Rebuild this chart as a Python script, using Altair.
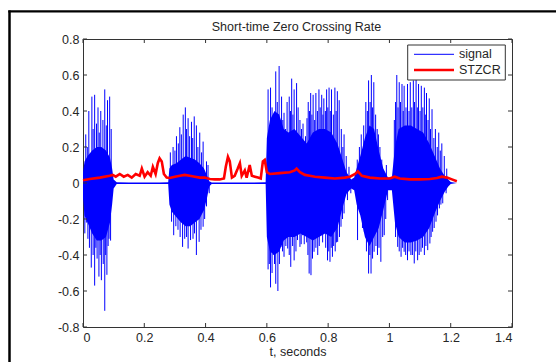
import altair as alt
import pandas as pd

TITLE = "Short-time Zero Crossing Rate"
X_LABEL = "t, seconds"
SERIES = ["signal", "STZCR"]
X_TICKS = [0, 0.2, 0.4, 0.6, 0.8, 1.0, 1.2, 1.4]
Y_TICKS = [-0.8, -0.6, -0.4, -0.2, 0, 0.2, 0.4, 0.6, 0.8]

# dense body of the speech waveform (upper / lower envelope)
body_t = [0.000, 0.005, 0.015, 0.030, 0.045, 0.060, 0.075, 0.088, 0.095, 0.100, 0.110, 0.150, 0.200, 0.250,
          0.278, 0.282, 0.290, 0.305, 0.320, 0.335, 0.350, 0.365, 0.380, 0.395, 0.405, 0.412, 0.420, 0.480,
          0.540, 0.596, 0.600, 0.610, 0.625, 0.640, 0.655, 0.670, 0.690, 0.710, 0.730, 0.750, 0.770, 0.790,
          0.810, 0.830, 0.845, 0.860, 0.875, 0.885, 0.893, 0.905, 0.920, 0.935, 0.950, 0.965, 0.980, 0.995,
          1.008, 1.018, 1.030, 1.050, 1.070, 1.090, 1.110, 1.130, 1.150, 1.165, 1.180, 1.192, 1.200, 1.220]
body_hi = [0.06, 0.12, 0.15, 0.18, 0.20, 0.20, 0.18, 0.14, 0.08, 0.02, 0.004, 0.003, 0.003, 0.003,
           0.004, 0.08, 0.10, 0.11, 0.13, 0.15, 0.14, 0.13, 0.11, 0.08, 0.04, 0.01, 0.003, 0.003,
           0.003, 0.004, 0.25, 0.35, 0.40, 0.38, 0.30, 0.28, 0.30, 0.26, 0.22, 0.28, 0.30, 0.30,
           0.28, 0.22, 0.14, 0.06, 0.02, 0.03, 0.08, 0.15, 0.25, 0.32, 0.30, 0.18, 0.08, 0.03,
           0.03, 0.20, 0.30, 0.32, 0.32, 0.30, 0.28, 0.22, 0.14, 0.08, 0.04, 0.02, 0.005, 0.0]
body_lo = [-0.08, -0.18, -0.22, -0.28, -0.32, -0.32, -0.30, -0.22, -0.12, -0.03, -0.006, -0.005, -0.005, -0.005,
           -0.006, -0.12, -0.16, -0.19, -0.22, -0.24, -0.24, -0.22, -0.20, -0.15, -0.08, -0.02, -0.005, -0.005,
           -0.005, -0.006, -0.30, -0.38, -0.40, -0.38, -0.32, -0.30, -0.30, -0.28, -0.30, -0.32, -0.30, -0.28,
           -0.30, -0.25, -0.15, -0.06, -0.03, -0.04, -0.12, -0.18, -0.30, -0.35, -0.30, -0.25, -0.15, -0.04,
           -0.04, -0.22, -0.30, -0.33, -0.33, -0.32, -0.30, -0.25, -0.16, -0.10, -0.05, -0.02, -0.005, 0.0]

# individual positive peaks (t, value)
peaks = [
    (0.009, 0.27), (0.014, 0.20), (0.019, 0.40), (0.029, 0.48), (0.033, 0.30), (0.038, 0.49), (0.044, 0.33),
    (0.049, 0.42), (0.053, 0.28), (0.058, 0.40), (0.065, 0.35), (0.071, 0.52), (0.076, 0.32), (0.080, 0.46),
    (0.087, 0.48), (0.092, 0.30),
    (0.285, 0.17), (0.294, 0.20), (0.300, 0.18), (0.305, 0.26), (0.311, 0.22), (0.316, 0.31), (0.321, 0.27),
    (0.327, 0.38), (0.334, 0.42), (0.338, 0.30), (0.343, 0.36), (0.348, 0.26), (0.354, 0.34), (0.358, 0.25),
    (0.363, 0.37), (0.370, 0.32), (0.375, 0.20), (0.381, 0.28), (0.387, 0.17), (0.392, 0.23), (0.403, 0.12),
    (0.408, 0.10),
    (0.604, 0.52), (0.612, 0.53), (0.617, 0.42), (0.621, 0.30), (0.629, 0.62), (0.634, 0.45), (0.640, 0.65),
    (0.648, 0.48), (0.652, 0.35), (0.656, 0.39), (0.661, 0.30), (0.666, 0.45), (0.673, 0.48), (0.677, 0.40),
    (0.681, 0.58), (0.685, 0.38), (0.689, 0.52), (0.697, 0.555), (0.702, 0.42), (0.708, 0.35), (0.713, 0.30),
    (0.718, 0.33), (0.726, 0.26), (0.731, 0.36), (0.735, 0.45), (0.739, 0.40), (0.743, 0.50), (0.747, 0.38),
    (0.751, 0.49), (0.756, 0.35), (0.760, 0.50), (0.765, 0.40), (0.770, 0.52), (0.774, 0.42), (0.779, 0.49),
    (0.783, 0.38), (0.786, 0.47), (0.791, 0.40), (0.795, 0.52), (0.799, 0.42), (0.803, 0.53), (0.807, 0.40),
    (0.811, 0.52), (0.817, 0.38), (0.822, 0.53), (0.826, 0.40), (0.830, 0.51), (0.836, 0.46), (0.843, 0.30),
    (0.848, 0.20), (0.852, 0.27), (0.859, 0.15), (0.868, 0.09),
    (0.895, 0.13), (0.902, 0.20), (0.908, 0.27), (0.916, 0.32), (0.923, 0.45), (0.928, 0.40), (0.932, 0.57),
    (0.937, 0.45), (0.941, 0.60), (0.945, 0.42), (0.949, 0.56), (0.955, 0.38), (0.960, 0.30), (0.964, 0.27),
    (0.969, 0.20), (0.975, 0.13), (0.990, 0.10),
    (1.016, 0.35), (1.020, 0.45), (1.024, 0.60), (1.028, 0.42), (1.032, 0.56), (1.036, 0.45), (1.041, 0.55),
    (1.045, 0.40), (1.048, 0.54), (1.054, 0.42), (1.059, 0.55), (1.064, 0.40), (1.068, 0.56), (1.073, 0.42),
    (1.078, 0.57), (1.082, 0.45), (1.087, 0.58), (1.091, 0.42), (1.095, 0.55), (1.100, 0.40), (1.104, 0.54),
    (1.109, 0.42), (1.114, 0.53), (1.117, 0.38), (1.121, 0.50), (1.126, 0.35), (1.130, 0.47), (1.134, 0.30),
    (1.139, 0.41), (1.145, 0.25), (1.150, 0.30), (1.156, 0.20), (1.161, 0.28), (1.166, 0.18), (1.171, 0.22),
    (1.179, 0.15), (1.187, 0.08),
]

# individual negative peaks (t, value)
troughs = [
    (0.006, -0.28), (0.011, -0.22), (0.016, -0.31), (0.021, -0.36), (0.027, -0.47), (0.033, -0.40),
    (0.038, -0.57), (0.042, -0.36), (0.046, -0.42), (0.052, -0.52), (0.056, -0.40), (0.060, -0.54),
    (0.066, -0.45), (0.071, -0.71), (0.074, -0.40), (0.078, -0.51), (0.082, -0.35), (0.085, -0.31),
    (0.090, -0.32),
    (0.289, -0.215), (0.296, -0.29), (0.303, -0.24), (0.310, -0.26), (0.317, -0.30), (0.325, -0.355),
    (0.332, -0.31), (0.338, -0.30), (0.343, -0.364), (0.351, -0.317), (0.359, -0.31), (0.364, -0.28),
    (0.370, -0.40), (0.379, -0.327), (0.385, -0.26), (0.392, -0.243), (0.397, -0.20), (0.403, -0.13),
    (0.412, -0.057),
    (0.604, -0.48), (0.608, -0.45), (0.612, -0.58), (0.617, -0.50), (0.621, -0.40), (0.625, -0.45),
    (0.629, -0.56), (0.636, -0.60), (0.641, -0.45), (0.646, -0.355), (0.651, -0.38), (0.656, -0.41),
    (0.662, -0.35), (0.668, -0.364), (0.673, -0.40), (0.678, -0.466), (0.684, -0.35), (0.689, -0.43),
    (0.695, -0.38), (0.700, -0.317), (0.708, -0.355), (0.712, -0.34), (0.716, -0.29), (0.722, -0.34),
    (0.730, -0.33), (0.734, -0.40), (0.738, -0.503), (0.744, -0.512), (0.749, -0.42), (0.754, -0.382),
    (0.760, -0.36), (0.766, -0.40), (0.771, -0.35), (0.776, -0.271), (0.782, -0.33), (0.787, -0.262),
    (0.792, -0.36), (0.798, -0.43), (0.802, -0.38), (0.806, -0.438), (0.810, -0.36), (0.814, -0.41),
    (0.818, -0.35), (0.823, -0.38), (0.827, -0.33), (0.831, -0.327), (0.837, -0.30), (0.842, -0.243),
    (0.847, -0.20), (0.852, -0.169), (0.863, -0.095), (0.874, -0.057),
    (0.896, -0.317), (0.907, -0.169), (0.912, -0.25), (0.918, -0.271), (0.925, -0.38), (0.932, -0.503),
    (0.936, -0.40), (0.940, -0.503), (0.945, -0.42), (0.950, -0.382), (0.956, -0.35), (0.961, -0.40),
    (0.966, -0.36), (0.972, -0.438), (0.978, -0.30), (0.983, -0.29), (0.988, -0.20), (0.994, -0.095),
    (1.020, -0.30), (1.027, -0.355), (1.032, -0.38), (1.038, -0.41), (1.043, -0.36), (1.048, -0.382),
    (1.053, -0.40), (1.059, -0.429), (1.064, -0.38), (1.070, -0.40), (1.075, -0.40), (1.081, -0.447),
    (1.086, -0.38), (1.092, -0.429), (1.097, -0.40), (1.103, -0.382), (1.108, -0.36), (1.114, -0.40),
    (1.119, -0.35), (1.125, -0.373), (1.132, -0.336), (1.136, -0.30), (1.141, -0.271), (1.146, -0.25),
    (1.152, -0.215), (1.157, -0.18), (1.163, -0.141), (1.168, -0.12), (1.174, -0.113), (1.185, -0.057),
]

# short-time zero crossing rate
zcr = [
    (0.000, 0.015), (0.022, 0.022), (0.055, 0.030), (0.087, 0.040), (0.097, 0.045), (0.107, 0.035),
    (0.120, 0.050), (0.133, 0.035), (0.146, 0.045), (0.159, 0.030), (0.172, 0.050), (0.185, 0.040),
    (0.192, 0.080), (0.201, 0.035), (0.211, 0.060), (0.221, 0.040), (0.228, 0.090), (0.237, 0.050),
    (0.244, 0.110), (0.250, 0.137), (0.257, 0.120), (0.264, 0.050), (0.273, 0.030), (0.283, 0.028),
    (0.300, 0.035), (0.316, 0.040), (0.332, 0.045), (0.348, 0.040), (0.365, 0.035), (0.381, 0.030),
    (0.397, 0.030), (0.414, 0.022), (0.430, 0.020), (0.446, 0.020), (0.460, 0.025), (0.466, 0.090),
    (0.473, 0.145), (0.479, 0.120), (0.486, 0.030), (0.495, 0.040), (0.505, 0.080), (0.512, 0.110),
    (0.518, 0.040), (0.528, 0.070), (0.534, 0.030), (0.544, 0.100), (0.551, 0.040), (0.561, 0.035),
    (0.571, 0.030), (0.580, 0.025), (0.587, 0.120), (0.593, 0.128), (0.600, 0.060), (0.610, 0.050),
    (0.642, 0.055), (0.675, 0.060), (0.691, 0.070), (0.697, 0.080), (0.708, 0.060), (0.724, 0.045),
    (0.740, 0.040), (0.757, 0.035), (0.789, 0.030), (0.822, 0.025), (0.855, 0.030), (0.871, 0.035),
    (0.888, 0.050), (0.897, 0.065), (0.910, 0.040), (0.936, 0.030), (0.969, 0.025), (1.001, 0.025),
    (1.017, 0.035), (1.034, 0.025), (1.067, 0.020), (1.100, 0.020), (1.132, 0.022), (1.155, 0.028),
    (1.171, 0.035), (1.188, 0.030), (1.204, 0.020), (1.220, 0.010),
]

W, H = 429, 288
BLUE = "#0000ff"
RED = "#ff0000"
INK = "#262626"
BOX = "#333333"
FONT = "Liberation Sans"
FS = 12.5

body_df = pd.DataFrame({"t": body_t, "hi": body_hi, "lo": body_lo})
spike_df = pd.DataFrame(peaks + troughs, columns=["t", "v"])
zcr_df = pd.DataFrame(zcr, columns=["t", "v"])
xt_df = pd.DataFrame({"t": X_TICKS})
yt_df = pd.DataFrame({"v": Y_TICKS})
one = pd.DataFrame({"k": [0]})

xs = alt.Scale(domain=[0, 1.4], nice=False, zero=False)
ys = alt.Scale(domain=[-0.8, 0.8], nice=False, zero=False)

x_axis = alt.Axis(values=X_TICKS, ticks=False, domain=False, grid=False,
                  labelExpr="toString(datum.value)", labelPadding=4,
                  title=X_LABEL, titlePadding=2)
y_axis = alt.Axis(values=Y_TICKS, ticks=False, domain=False, grid=False,
                  labelExpr="toString(datum.value)", labelPadding=4, title=None)


def X(field):
    return alt.X(field, scale=xs, axis=x_axis, title=X_LABEL)


def Y(field):
    return alt.Y(field, scale=ys, axis=y_axis, title=None)


body = alt.Chart(body_df).mark_area(color=BLUE, opacity=1).encode(
    x=X("t:Q"), y=Y("hi:Q"), y2="lo:Q",
)

spikes = alt.Chart(spike_df).mark_rule(color=BLUE, strokeWidth=1).encode(
    x=X("t:Q"), y=Y("v:Q"), y2=alt.datum(0),
)

zcr_line = alt.Chart(zcr_df).mark_line(color=RED, strokeWidth=2.6).encode(
    x=X("t:Q"), y=Y("v:Q"),
)

xt_bottom = alt.Chart(xt_df).mark_rule(color=BOX, strokeWidth=1).encode(
    x=X("t:Q"), y=alt.value(H), y2=alt.value(H - 4))
xt_top = alt.Chart(xt_df).mark_rule(color=BOX, strokeWidth=1).encode(
    x=X("t:Q"), y=alt.value(0), y2=alt.value(4))
yt_left = alt.Chart(yt_df).mark_rule(color=BOX, strokeWidth=1).encode(
    y=Y("v:Q"), x=alt.value(0), x2=alt.value(4))
yt_right = alt.Chart(yt_df).mark_rule(color=BOX, strokeWidth=1).encode(
    y=Y("v:Q"), x=alt.value(W), x2=alt.value(W - 4))

# outer figure frame (left and top edges)
frame_left = alt.Chart(one).mark_rule(color="black", strokeWidth=2.5).encode(
    x=alt.value(-73.5), y=alt.value(-28.5), y2=alt.value(340))
frame_top = alt.Chart(one).mark_rule(color="black", strokeWidth=2.2).encode(
    x=alt.value(-74.7), x2=alt.value(480), y=alt.value(-27.6))

title = alt.Chart(pd.DataFrame({"label": [TITLE]})).mark_text(
    font=FONT, fontSize=FS, color=INK, align="center", baseline="middle").encode(
    x=alt.value(W / 2 - 1), y=alt.value(-12.5), text="label:N")

# legend
leg_box = alt.Chart(one).mark_rect(fill="white", stroke=BOX, strokeWidth=1).encode(
    x=alt.value(324.7), x2=alt.value(422.3), y=alt.value(6), y2=alt.value(41))
leg_l1 = alt.Chart(one).mark_rule(color=BLUE, strokeWidth=1).encode(
    x=alt.value(331), x2=alt.value(371), y=alt.value(15.3))
leg_l2 = alt.Chart(one).mark_rule(color=RED, strokeWidth=2.6).encode(
    x=alt.value(331), x2=alt.value(371), y=alt.value(31))
leg_t1 = alt.Chart(pd.DataFrame({"label": [SERIES[0]]})).mark_text(
    font=FONT, fontSize=FS, color=INK, align="left", baseline="middle").encode(
    x=alt.value(376), y=alt.value(15.3), text="label:N")
leg_t2 = alt.Chart(pd.DataFrame({"label": [SERIES[1]]})).mark_text(
    font=FONT, fontSize=FS, color=INK, align="left", baseline="middle").encode(
    x=alt.value(376), y=alt.value(31), text="label:N")

chart = alt.layer(
    body, spikes, zcr_line, xt_bottom, xt_top, yt_left, yt_right,
    frame_left, frame_top, title, leg_box, leg_l1, leg_l2, leg_t1, leg_t2,
).properties(
    width=W, height=H,
    autosize=alt.AutoSizeParams(type="none"),
    padding={"left": 83, "top": 39, "right": 44, "bottom": 35},
    background="white",
).configure_view(
    stroke=BOX, strokeWidth=1,
).configure_axis(
    labelFont=FONT, labelFontSize=FS, labelColor=INK,
    titleFont=FONT, titleFontSize=FS, titleFontWeight="normal", titleColor=INK,
)

chart.save("out.html", embed_options={"renderer": "svg", "actions": False})
